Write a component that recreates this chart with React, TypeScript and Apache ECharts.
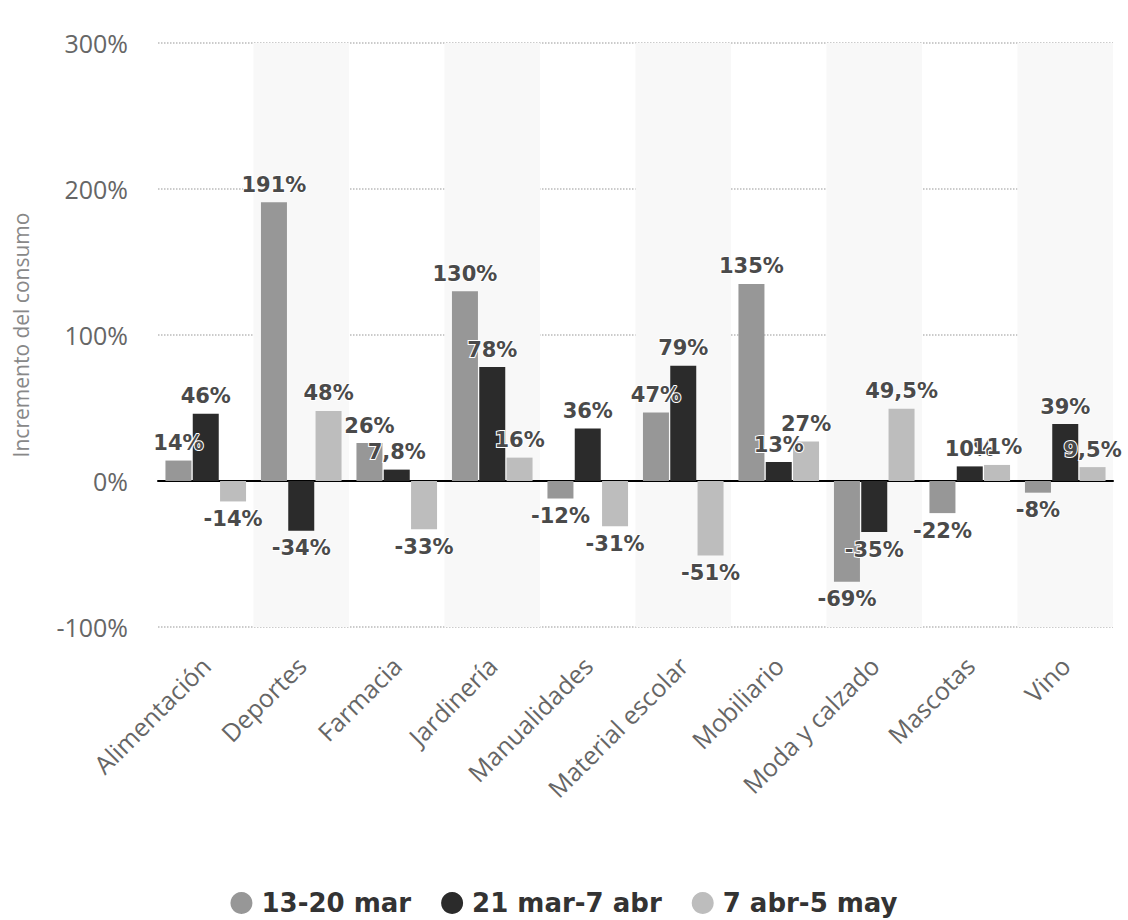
import React, { useEffect, useRef } from "react";
import * as echarts from "echarts";

const categories = [
  "Alimentación",
  "Deportes",
  "Farmacia",
  "Jardinería",
  "Manualidades",
  "Material escolar",
  "Mobiliario",
  "Moda y calzado",
  "Mascotas",
  "Vino",
];
const seriesNames = ["13-20 mar", "21 mar-7 abr", "7 abr-5 may"];
const period1 = [14, 191, 26, 130, -12, 47, 135, -69, -22, -8];
const period2 = [46, -34, 7.8, 78, 36, 79, 13, -35, 10, 39];
const period3 = [-14, 48, -33, 16, -31, -51, 27, 49.5, 11, 9.5];
const colors = ["#979797", "#2b2b2b", "#bdbdbd"];
const yTicks = { min: -100, max: 300, interval: 100 };

const fmt = (v: number) => `${String(v).replace(".", ",")}%`;

export default function App() {
  const ref = useRef<HTMLDivElement>(null);
  useEffect(() => {
    if (!ref.current) return;
    const chart = echarts.init(ref.current, undefined, { renderer: "svg" });
    const all = [period1, period2, period3];
    const series = all.map((vals, i) => ({
      name: seriesNames[i],
      type: "bar",
      barWidth: 26,
      barGap: "5%",
      itemStyle: { color: colors[i] },
      data: vals.map((v) => ({
        value: v,
        label: { position: v < 0 ? "bottom" : "top" },
      })),
      label: {
        show: true,
        formatter: (p: any) => fmt(p.value),
        fontFamily: "DejaVu Sans",
        fontWeight: "bold",
        fontSize: 21,
        color: "#4a4a4a",
        textBorderColor: "#fff",
        textBorderWidth: 2,
        distance: 7,
      },
    }));
    chart.setOption({
      animation: false,
      backgroundColor: "#fff",
      grid: {
        left: 158,
        right: 15,
        top: 43,
        bottom: 293,
        containLabel: false,
        outerBoundsMode: "none",
      },
      legend: {
        data: seriesNames,
        top: 884,
        left: "center",
        icon: "circle",
        itemWidth: 22,
        itemHeight: 22,
        itemGap: 30,
        textStyle: {
          fontFamily: "DejaVu Sans",
          fontWeight: "bold",
          fontSize: 26,
          lineHeight: 28,
          color: "#333",
          padding: [0, 0, 0, 4],
        },
      },
      xAxis: {
        type: "category",
        data: categories,
        axisLine: { onZero: true, lineStyle: { color: "#000", width: 2 } },
        axisTick: { show: false },
        splitArea: {
          show: true,
          areaStyle: { color: ["rgba(255,255,255,0)", "#f8f8f8"] },
        },
        axisLabel: {
          rotate: 45,
          interval: 0,
          margin: 34,
          fontFamily: "Open Sans",
          fontSize: 25,
          color: "#666",
        },
      },
      yAxis: {
        type: "value",
        min: yTicks.min,
        max: yTicks.max,
        interval: yTicks.interval,
        name: "Incremento del consumo",
        nameLocation: "middle",
        nameGap: 127,
        nameTextStyle: {
          fontFamily: "Open Sans",
          fontSize: 21,
          color: "#888",
        },
        axisLine: { show: false },
        axisTick: { show: false },
        axisLabel: {
          formatter: (v: number) => `${v}%`,
          fontFamily: "Open Sans",
          fontSize: 25,
          color: "#666",
          margin: 30,
        },
        splitLine: {
          lineStyle: { type: "dotted", color: "#bbb", width: 1.5 },
        },
      },
      series,
    });
    return () => chart.dispose();
  }, []);
  return (
    <div
      ref={ref}
      style={{ position: "absolute", left: 0, top: 0, width: 1128, height: 920 }}
    />
  );
}
